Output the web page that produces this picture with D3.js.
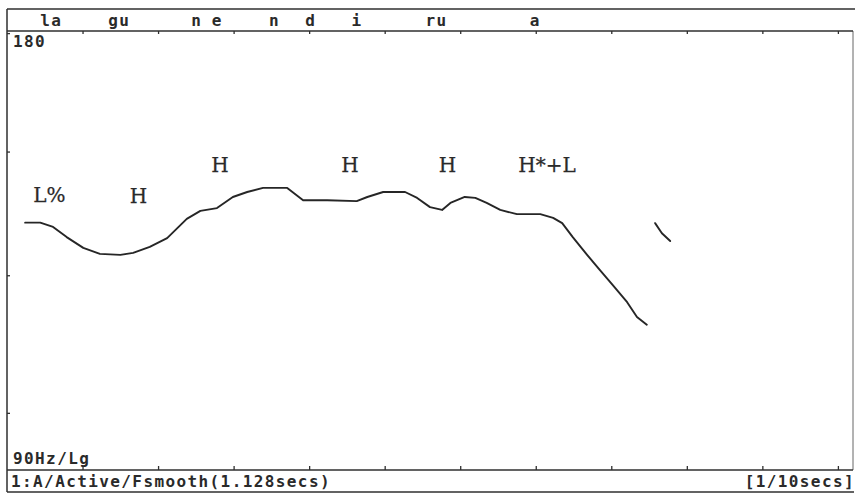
<!DOCTYPE html>
<html><head><meta charset="utf-8">
<script src="https://cdn.jsdelivr.net/npm/d3@7"></script>
<style>
html,body{margin:0;padding:0;background:#fff;}
svg{display:block;}
.mono{font-family:"DejaVu Sans Mono","Liberation Mono",monospace;font-weight:bold;fill:#2a2a2a;letter-spacing:1.4px;}
.tone{font-family:"DejaVu Serif","Liberation Serif",serif;fill:#2a2a2a;stroke:#2a2a2a;stroke-width:0.25;}
</style></head>
<body>
<script>
// ---- data ----
const syllables = ["la","gu","n","e","n","d","i","ru","a"];
const syllableTimes = [0.044,0.134,0.244,0.271,0.347,0.395,0.456,0.554,0.692];
const seg1Time = [0.024,0.044,0.061,0.079,0.101,0.123,0.150,0.167,0.189,0.212,0.238,0.256,0.278,0.299,0.318,0.339,0.371,0.392,0.424,0.463,0.477,0.498,0.527,0.543,0.560,0.576,0.587,0.606,0.620,0.635,0.653,0.675,0.706,0.723,0.735,0.749,0.768,0.785,0.802,0.821,0.834,0.847];
const seg1Hz   = [133.0,133.0,132.1,130.0,127.8,126.6,126.4,126.8,128.0,129.8,133.8,135.5,136.1,138.5,139.6,140.5,140.5,137.8,137.8,137.6,138.5,139.6,139.6,138.3,136.3,135.7,137.2,138.5,138.3,137.2,135.7,134.8,134.8,134.0,132.9,130.0,126.4,123.4,120.5,117.3,114.6,113.2];
const seg2Time = [0.858,0.867,0.878];
const seg2Hz   = [132.9,130.8,129.2];
const toneLabels = ["L%","H","H","H","H","H*+L"];
const toneTimes  = [0.056,0.174,0.282,0.454,0.583,0.715];
const toneHz     = [137.4,137.2,144.1,144.1,144.1,144.1];
const xTicks = [0.1,0.2,0.3,0.4,0.5,0.6,0.7,0.8,0.9,1.0,1.1];
const yTicks = [179.4,148.8,122.4,98.5];
const yMaxLabel = "180", yMinLabel = "90Hz/Lg";
const statusLeft = "1:A/Active/Fsmooth(1.128secs)", statusRight = "[1/10secs]";

// ---- layout ----
const W=855,H=495, L=7, R=853, TOP=9, BAND=31, BOT=470, STAT=492;
const svg=d3.select("body").append("svg").attr("width",W).attr("height",H);
const x=d3.scaleLinear().domain([0,1.12]).range([L,R]);
const y=d3.scaleLog().domain([90,180]).range([BOT,BAND]);
const ink="#2f2f2f";

// frame
const g=svg.append("g").attr("stroke",ink).attr("stroke-width",1.5).attr("fill","none");
g.append("line").attr("x1",L).attr("x2",W).attr("y1",TOP).attr("y2",TOP);
g.append("line").attr("x1",L).attr("x2",R+1).attr("y1",STAT).attr("y2",STAT);
g.append("line").attr("x1",L).attr("x2",L).attr("y1",TOP).attr("y2",STAT);
g.append("line").attr("x1",R).attr("x2",R).attr("y1",BAND).attr("y2",BOT).attr("stroke-width",1).attr("stroke","#666");

// top axis (ticks down) and bottom axis (ticks up)
const axTop=svg.append("g").attr("transform",`translate(0,${BAND})`)
  .call(d3.axisBottom(x).tickValues(xTicks).tickSize(3).tickFormat("").tickSizeOuter(0));
const axBot=svg.append("g").attr("transform",`translate(0,${BOT})`)
  .call(d3.axisTop(x).tickValues(xTicks).tickSize(4).tickFormat("").tickSizeOuter(0));
const axLeft=svg.append("g").attr("transform",`translate(${L},0)`)
  .call(d3.axisRight(y).tickValues(yTicks).tickSize(3).tickFormat("").tickSizeOuter(0));
[axTop,axBot].forEach(a=>{a.select(".domain").attr("stroke",ink).attr("stroke-width",1.5).attr("d",`M${L},0H${R}`);});
[axTop,axBot,axLeft].forEach(a=>a.selectAll(".tick line").attr("stroke",ink).attr("stroke-width",1.3));
axLeft.select(".domain").remove();

// syllable labels
svg.append("g").selectAll("text").data(syllables).join("text")
  .attr("class","mono").attr("font-size",16)
  .attr("x",(d,i)=>x(syllableTimes[i])).attr("y",26).text(d=>d);

// axis range labels
svg.append("text").attr("class","mono").attr("font-size",16).attr("x",13).attr("y",47).text(yMaxLabel);
svg.append("text").attr("class","mono").attr("font-size",16).attr("x",13).attr("y",464).text(yMinLabel);
svg.append("text").attr("class","mono").attr("font-size",16).attr("x",11).attr("y",487).text(statusLeft);
svg.append("text").attr("class","mono").attr("font-size",16).attr("x",855).attr("y",487).attr("text-anchor","end").text(statusRight);

// pitch contour
const line=d3.line().x(d=>x(d[0])).y(d=>y(d[1]));
const segs=[d3.zip(seg1Time,seg1Hz), d3.zip(seg2Time,seg2Hz)];
svg.append("g").selectAll("path").data(segs).join("path")
  .attr("d",line).attr("fill","none").attr("stroke","#262626").attr("stroke-width",1.9)
  .attr("stroke-linejoin","round").attr("stroke-linecap","round");

// tone labels
svg.append("g").selectAll("text").data(toneLabels).join("text")
  .attr("class","tone").attr("font-size",20).attr("text-anchor","middle")
  .attr("x",(d,i)=>x(toneTimes[i])).attr("y",(d,i)=>y(toneHz[i])).text(d=>d);
</script>
</body></html>
